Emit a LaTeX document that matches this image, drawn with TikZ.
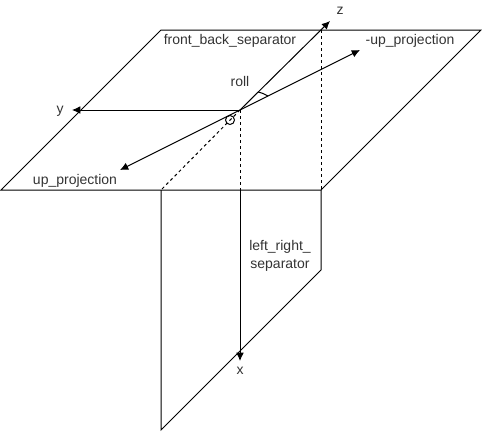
\documentclass[tikz,border=0pt]{standalone}
\usepackage{fontspec}
\setmainfont{Liberation Sans}
\usetikzlibrary{arrows.meta}
\tikzset{
  px/.style={x=0.75pt,y=-0.75pt},
  edgeline/.style={draw=black,line width=0.75pt},
  dashline/.style={draw=black,line width=0.75pt,dash pattern=on 2.25pt off 2.25pt},
  axisline/.style={draw=black,line width=0.75pt,-{Latex[length=6.2pt,width=5.8pt]}},
  lbl/.style={text=black!80,font=\fontsize{10.5pt}{13.5pt}\selectfont,inner sep=0pt,align=center}
}
\begin{document}
\begin{tikzpicture}[px]
\useasboundingbox (0,0) rectangle (482,432);
\coordinate (o) at (240,110);
\coordinate (a) at (1,190);
\coordinate (b) at (321,190);
\coordinate (c) at (481,30);
\coordinate (d) at (161,30);
\coordinate (e) at (161,190);
\coordinate (f) at (161,430);
\coordinate (g) at (321,270);
\coordinate (h) at (321,30);
\coordinate (i) at (240,190);
\coordinate (xe) at (240,361);
\coordinate (ye) at (72,110);
\coordinate (ze) at (330,21);
\coordinate (ue) at (120,170);
\coordinate (me) at (360,50);
\coordinate (ra) at (258,92);
\coordinate (rb) at (268,96);
\coordinate (cc) at (230,120);
\draw[edgeline] (a) -- (b) -- (c) -- (d) -- cycle;
\draw[edgeline] (e) -- (f) -- (g) -- (b);
\draw[dashline] (h) -- (b);
\draw[dashline] (o) -- (i);
\draw[dashline] (o) -- (e);
\draw[axisline] (i) -- (xe);
\draw[axisline] (o) -- (ye);
\draw[axisline] (o) -- (ze);
\draw[axisline] (o) -- (ue);
\draw[axisline] (o) -- (me);
\draw[edgeline] (ra) .. controls (262,93) and (265,94) .. (rb);
\draw[edgeline] (cc) circle (4.5);
\node[lbl] (nfb) at (230,41) {front\_back\_separator};
\node[lbl] (nmu) at (410,41) {-up\_projection};
\node[lbl] (nroll) at (240,81) {roll};
\node[lbl] (nz) at (340,11) {z};
\node[lbl] (ny) at (60,111) {y};
\node[lbl] (nu) at (75,181) {up\_projection};
\node[lbl] (nlr) at (280,256) {left\_right\_\\separator};
\node[lbl] (nx) at (240,371) {x};
\end{tikzpicture}
\end{document}
